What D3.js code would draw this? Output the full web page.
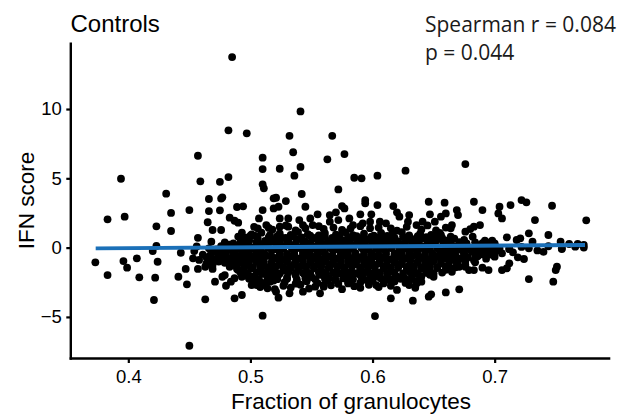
<!DOCTYPE html>
<html>
<head>
<meta charset="utf-8">
<script src="https://cdn.jsdelivr.net/npm/d3@7"></script>
<style>
  html, body { margin: 0; padding: 0; background: #fff; }
  svg { display: block; }
</style>
</head>
<body>
<svg id="chart" width="633" height="419"></svg>
<script>
// ---------------- DATA ----------------
const titleText = "Controls";
const statLines = ["Spearman r = 0.084", "p = 0.044"];
const xLabel = "Fraction of granulocytes";
const yLabel = "IFN score";
const xTicks = [0.4, 0.5, 0.6, 0.7];
const xTickLabels = ["0.4", "0.5", "0.6", "0.7"];
const yTicks = [-5, 0, 5, 10];
const yTickLabels = ["\u22125", "0", "5", "10"];

// Linear fit endpoints
const fitX = [0.3733, 0.774];
const fitY = [-0.05, 0.19];

// Sparse / clearly readable points (fraction, IFN score)
const upperPoints = [
  [.394,4.97],[.482,8.46],[.457,6.63],[.459,4.78],[.475,4.75],[.482,5.09],[.431,3.89],[.466,3.51],
  [.476,3.54],[.477,3.63],[.435,2.50],[.450,2.71],[.466,2.64],[.475,2.69],[.489,2.93],[.383,2.04],
  [.397,2.23],[.483,2.16],[.485,13.75],[.541,9.83],[.497,8.25],[.532,8.07],[.567,8.07],[.510,6.49],
  [.535,6.88],[.563,6.37],[.577,6.75],[.510,5.67],[.524,5.69],[.541,5.82],[.676,6.03],[.627,5.55],
  [.604,5.19],[.585,5.04],[.591,5.00],[.536,5.19],
  [.494,2.98],[.465,1.83],[.487,1.94],[.490,1.80],[.423,1.54],[.435,1.20],[.469,1.27],[.476,1.27],
  [.457,0.71],[.468,0.43],[.493,1.08],[.500,0.86],[.423,0.12],[.420,-0.25],[.443,-0.37],[.454,-0.25],
  [.456,0.09],[.471,-0.25],[.478,-0.25],[.484,0.09],[.490,0.09],[.498,-0.17]
];
const midPoints = [
  [.510,4.57],[.511,4.28],[.542,3.87],[.572,4.20],[.519,3.56],[.521,3.60],[.529,3.36],[.594,3.43],
  [.594,3.20],[.646,3.31],[.510,2.71],[.519,2.83],[.523,2.95],[.545,2.95],[.575,3.00],[.577,2.83],
  [.604,3.07],[.617,3.00],[.570,2.55],[.555,2.40],[.565,2.35],[.590,2.40],[.599,2.40],[.620,2.55],
  [.622,2.23],[.630,2.35],[.647,2.40],[.507,2.11],[.513,1.63],[.506,1.39],[.524,2.11],[.531,2.11],
  [.540,1.99],[.549,2.11],[.524,1.51],[.531,1.51],[.543,1.63],[.551,1.63],[.565,1.87],[.572,1.99],
  [.581,2.11],[.584,1.63],[.592,1.75],[.598,1.87],[.606,1.87],[.611,1.75],[.615,1.39],[.629,1.87],
  [.636,1.63],[.641,1.87],[.651,1.87],
  [.518,1.30],[.537,1.25],[.560,1.35],[.575,1.28],[.598,1.40],[.620,1.22],[.640,1.30],[.652,1.25],
  [.659,3.24],[.683,3.31],[.690,2.71],[.704,2.95],[.703,2.47],[.706,2.11],[.713,3.07],[.722,3.43],
  [.726,3.27],[.747,3.02],[.733,1.99],[.775,1.97],[.660,2.47],[.669,2.71],[.670,2.35],[.656,2.23],
  [.665,1.63],[.664,1.39],[.688,1.63],[.683,1.51],[.680,1.34],[.676,1.15],[.656,0.91],[.654,0.71],
  [.682,0.79],[.675,0.55],[.692,0.50],[.698,0.50],[.710,0.74],[.718,0.55],[.721,0.67],[.728,1.03],
  [.731,0.43],[.744,0.91],[.754,0.43],[.761,0.26],[.768,0.26],[.773,0.19],[.755,-0.05],
  [.712,-0.10],[.722,0.05],[.735,-0.20],[.744,0.10],[.700,0.30],[.715,-0.35],[.728,-0.05],[.740,-0.30]
];
const lowerPoints = [
  [.373,-1.06],[.383,-1.98],[.396,-0.97],[.399,-1.45],[.407,-0.77],[.409,-2.14],[.424,-1.02],[.422,-2.17],
  [.421,-3.78],[.447,-1.54],[.441,-2.10],[.448,-2.65],[.450,-7.08],[.453,-0.77],[.458,-0.89],[.457,-1.54],
  [.463,-1.38],[.464,-1.13],[.469,-1.26],[.469,-1.54],[.471,-2.46],[.463,-3.73],[.477,-2.10],[.480,-2.75],
  [.484,-2.46],[.487,-2.21],[.487,-3.66],[.493,-3.42],[.476,-0.53],[.487,-0.77],[.493,-0.53],[.484,-1.26],
  [.490,-1.62],[.495,-1.38],[.479,-1.98],[.493,-2.10],[.499,-2.21],[.501,-2.70],
  [.510,-4.91],[.602,-4.94],[.615,-3.66],[.633,-3.83],[.646,-3.54],[.648,-3.37],[.523,-3.61],[.521,-3.18],
  [.532,-3.30],[.543,-3.18],[.557,-3.30],[.505,-2.70],[.514,-2.94],[.516,-2.46],[.538,-2.46],[.546,-2.34],
  [.553,-2.82],[.560,-2.70],[.570,-2.34],[.580,-2.58],[.581,-2.21],[.590,-1.98],[.595,-2.34],[.603,-2.70],
  [.611,-2.34],[.620,-2.10],[.628,-2.46],[.636,-2.58],[.640,-2.46],[.650,-2.10],[.644,-1.62],[.502,-2.10],
  [.508,-1.26],[.516,-1.49],
  [.660,-3.23],[.671,-3.01],[.728,-2.27],[.748,-2.46],[.750,-1.62],[.751,-1.38],[.706,-1.62],[.710,-1.49],
  [.712,-1.13],[.719,-0.70],[.724,-0.82],[.700,-0.65],[.686,-0.58],[.689,-0.48],[.679,-1.62],[.683,-1.62],
  [.690,-1.45],[.695,-1.62],[.664,-1.49],[.665,-1.74],[.671,-1.38],[.672,-0.77],[.664,-0.77],[.657,-0.77],
  [.658,-0.29],[.667,-0.29],[.673,-0.17],[.712,-0.10],[.755,-0.10],[.766,0.07],[.773,0.00]
];
// Dense core (estimated where dots overlap)
const corePoints = [
  [.501,.95],[.509,1.08],[.516,.90],[.524,1.02],[.533,.92],[.539,1.12],[.547,.97],[.556,.88],[.561,1.05],
  [.570,.93],[.578,1.10],[.584,.90],[.593,1.00],[.601,.86],[.607,1.07],[.616,.95],[.624,1.12],[.630,.89],
  [.639,1.00],[.648,.92],[.655,1.06],
  [.493,.60],[.499,.50],[.506,.66],[.512,.48],[.519,.60],[.526,.70],[.531,.50],[.538,.58],[.545,.45],
  [.551,.66],[.557,.54],[.564,.47],[.570,.63],[.576,.52],[.583,.69],[.589,.48],[.596,.60],[.602,.50],
  [.609,.67],[.615,.55],[.621,.45],[.628,.62],[.634,.52],[.641,.68],[.647,.47],[.653,.58],[.660,.50],[.667,.64],
  [.476,.10],[.483,.22],[.489,.05],[.495,.18],[.502,.02],[.508,.20],[.514,.10],[.521,.26],[.527,.05],
  [.533,.16],[.540,.00],[.546,.22],[.552,.10],[.559,.25],[.565,.03],[.571,.15],[.578,.27],[.584,.06],
  [.590,.19],[.597,.00],[.603,.13],[.610,.24],[.616,.05],[.622,.17],[.629,.02],[.635,.20],[.642,.09],
  [.648,.25],[.654,.04],[.661,.16],[.667,.07],[.674,.22],[.680,.00],[.687,.14],[.694,.05],[.700,.20],
  [.469,-.30],[.475,-.42],[.481,-.20],[.487,-.35],[.493,-.18],[.499,-.44],[.505,-.27],[.511,-.38],[.518,-.16],
  [.524,-.33],[.530,-.45],[.536,-.22],[.543,-.37],[.549,-.15],[.555,-.29],[.561,-.43],[.568,-.20],[.574,-.34],
  [.580,-.17],[.586,-.40],[.593,-.26],[.599,-.44],[.605,-.19],[.611,-.32],[.618,-.42],[.624,-.21],[.630,-.36],
  [.637,-.15],[.643,-.30],[.649,-.43],[.655,-.22],[.662,-.35],[.668,-.18],[.675,-.40],[.681,-.27],[.688,-.20],
  [.694,-.38],[.701,-.25],[.706,-.41],
  [.464,-.70],[.471,-.82],[.477,-.62],[.483,-.78],[.489,-.60],[.496,-.87],[.502,-.68],[.508,-.80],[.514,-.60],
  [.521,-.75],[.527,-.88],[.533,-.65],[.539,-.80],[.546,-.59],[.552,-.72],[.558,-.86],[.564,-.63],[.571,-.77],
  [.577,-.60],[.583,-.84],[.590,-.69],[.596,-.88],[.602,-.62],[.608,-.75],[.615,-.85],[.621,-.64],[.627,-.79],
  [.633,-.59],[.640,-.73],[.646,-.86],[.652,-.66],[.659,-.78],[.665,-.60],[.671,-.83],[.678,-.70],[.686,-.62],[.693,-.80],
  [.479,-1.10],[.486,-1.25],[.492,-1.05],[.498,-1.20],[.505,-1.02],[.511,-1.30],[.517,-1.12],[.524,-1.24],
  [.530,-1.03],[.536,-1.18],[.542,-1.30],[.549,-1.08],[.555,-1.22],[.561,-1.01],[.567,-1.15],[.574,-1.28],
  [.580,-1.06],[.586,-1.20],[.593,-1.04],[.599,-1.27],[.605,-1.12],[.611,-1.30],[.618,-1.05],[.624,-1.18],
  [.630,-1.28],[.637,-1.07],[.643,-1.22],[.649,-1.02],[.656,-1.16],[.662,-1.29],[.669,-1.10],[.676,-1.23],[.684,-1.05],
  [.489,-1.55],[.495,-1.70],[.501,-1.48],[.508,-1.62],[.514,-1.75],[.520,-1.52],[.527,-1.66],[.533,-1.46],
  [.539,-1.60],[.546,-1.74],[.552,-1.50],[.558,-1.64],[.564,-1.45],[.571,-1.70],[.577,-1.56],[.583,-1.75],
  [.590,-1.48],[.596,-1.62],[.602,-1.72],[.609,-1.50],[.615,-1.66],[.621,-1.46],[.628,-1.60],[.634,-1.74],
  [.640,-1.53],[.647,-1.67],[.653,-1.47],[.660,-1.60],
  [.496,-2.00],[.503,-2.15],[.510,-1.90],[.517,-2.08],[.523,-1.95],[.530,-2.17],[.537,-2.00],[.544,-1.90],
  [.550,-2.12],[.557,-1.97],[.564,-2.18],[.570,-1.92],[.577,-2.05],[.584,-1.88],[.591,-2.14],[.598,-1.98],
  [.605,-2.10],[.612,-1.90],[.619,-2.06],[.626,-2.16],[.633,-1.94],[.640,-2.08],[.647,-1.96],
  [.502,-2.40],[.510,-2.55],[.519,-2.38],[.528,-2.50],[.537,-2.60],[.546,-2.42],[.555,-2.56],[.563,-2.40],
  [.572,-2.62],[.580,-2.45],[.590,-2.52],[.600,-2.40],[.609,-2.58],[.618,-2.44],[.627,-2.55],[.636,-2.40],
  [.508,-2.85],[.520,-3.00],[.533,-2.88],[.548,-2.95],[.560,-2.82],[.575,-3.00],[.590,-2.90],[.605,-2.85],
  [.620,-3.05],[.635,-2.90]
];
// Second, interleaved layer of the dense core (estimated)
const coreFill = [
  [.503,1.50],[.515,1.42],[.529,1.60],[.545,1.40],[.556,1.55],[.568,1.45],[.582,1.38],[.590,1.55],
  [.605,1.45],[.628,1.50],[.645,1.60],[.660,1.45],
  [.490,.80],[.497,.72],[.504,.85],[.515,.76],[.522,.82],[.529,.70],[.535,.80],[.542,.74],[.549,.86],
  [.554,.72],[.561,.79],[.567,.70],[.573,.84],[.580,.75],[.587,.82],[.592,.72],[.599,.80],[.605,.74],
  [.612,.84],[.618,.72],[.625,.80],[.631,.70],[.637,.83],[.644,.76],[.651,.82],[.657,.70],[.664,.80],
  [.479,.38],[.486,.30],[.492,.42],[.498,.32],[.505,.40],[.511,.30],[.517,.44],[.524,.34],[.530,.38],
  [.537,.30],[.543,.43],[.549,.33],[.556,.40],[.562,.28],[.568,.42],[.575,.35],[.581,.44],[.587,.30],
  [.594,.38],[.600,.30],[.607,.42],[.613,.33],[.619,.40],[.626,.30],[.632,.43],[.638,.35],[.645,.40],
  [.651,.30],[.658,.42],[.664,.33],[.671,.40],[.677,.30],[.684,.38],[.690,.32],[.697,.42],
  [.466,-.05],[.472,-.12],[.478,-.02],[.484,-.10],[.490,-.05],[.496,-.12],[.502,-.04],[.508,-.10],
  [.515,-.03],[.521,-.12],[.527,-.06],[.534,-.10],[.540,-.02],[.546,-.12],[.553,-.06],[.559,-.10],
  [.565,-.03],[.572,-.12],[.578,-.05],[.584,-.10],[.591,-.02],[.597,-.12],[.603,-.06],[.609,-.10],
  [.615,-.03],[.622,-.12],[.628,-.05],[.634,-.10],[.641,-.03],[.647,-.12],[.653,-.05],[.659,-.10],
  [.665,-.02],[.672,-.12],[.678,-.06],[.684,-.10],[.691,-.03],[.697,-.12],[.704,-.06],
  [.461,-.50],[.467,-.56],[.474,-.48],[.480,-.55],[.486,-.50],[.492,-.58],[.498,-.50],[.505,-.55],
  [.511,-.48],[.517,-.57],[.524,-.52],[.530,-.56],[.536,-.49],[.543,-.57],[.549,-.51],[.555,-.56],
  [.561,-.48],[.567,-.56],[.574,-.52],[.580,-.57],[.586,-.49],[.593,-.55],[.599,-.52],[.605,-.57],
  [.611,-.48],[.618,-.56],[.624,-.52],[.630,-.57],[.637,-.50],[.643,-.55],[.649,-.49],[.655,-.57],
  [.662,-.52],[.668,-.56],[.675,-.49],[.684,-.55],[.697,-.50],
  [.468,-.95],[.474,-1.00],[.480,-.92],[.486,-.98],[.493,-.93],[.499,-1.00],[.505,-.94],[.511,-.99],
  [.518,-.92],[.524,-.98],[.530,-.95],[.537,-1.00],[.543,-.93],[.549,-.98],[.555,-.92],[.562,-1.00],
  [.568,-.95],[.574,-.99],[.580,-.92],[.587,-.98],[.593,-.94],[.599,-1.00],[.606,-.93],[.612,-.98],
  [.618,-.92],[.624,-1.00],[.631,-.95],[.637,-.99],[.643,-.92],[.650,-.98],[.656,-.94],[.663,-1.00],
  [.669,-.93],[.676,-.98],[.683,-.92],
  [.483,-1.38],[.489,-1.42],[.495,-1.35],[.502,-1.40],[.508,-1.36],[.514,-1.42],[.521,-1.35],[.527,-1.40],
  [.533,-1.37],[.539,-1.42],[.546,-1.35],[.552,-1.40],[.558,-1.36],[.565,-1.42],[.571,-1.35],[.577,-1.40],
  [.583,-1.37],[.590,-1.42],[.596,-1.35],[.602,-1.40],[.609,-1.36],[.615,-1.42],[.621,-1.35],[.628,-1.40],
  [.634,-1.37],[.640,-1.42],[.647,-1.35],[.653,-1.40],[.660,-1.36],[.668,-1.42],[.676,-1.38],
  [.492,-1.82],[.498,-1.86],[.505,-1.80],[.511,-1.85],[.518,-1.80],[.524,-1.86],[.531,-1.80],[.537,-1.85],
  [.543,-1.82],[.549,-1.86],[.556,-1.80],[.562,-1.85],[.568,-1.81],[.574,-1.86],[.581,-1.80],[.587,-1.85],
  [.593,-1.82],[.600,-1.86],[.606,-1.80],[.612,-1.85],[.618,-1.81],[.625,-1.86],[.631,-1.80],[.637,-1.85],
  [.644,-1.82],[.650,-1.86],[.657,-1.80],
  [.499,-2.25],[.507,-2.30],[.514,-2.22],[.522,-2.28],[.530,-2.24],[.538,-2.30],[.545,-2.22],[.553,-2.28],
  [.561,-2.25],[.569,-2.30],[.576,-2.22],[.584,-2.28],[.592,-2.24],[.600,-2.30],[.607,-2.22],[.615,-2.28],
  [.623,-2.25],[.631,-2.30],[.639,-2.22],
  [.512,-2.70],[.527,-2.75],[.541,-2.68],[.566,-2.72],[.585,-2.78],[.597,-2.68],[.615,-2.75],[.630,-2.70]
];

// ---------------- CHART ----------------
const W = 633, H = 419;
const margin = { left: 70.8, right: 22.7, top: 42.5, bottom: 60.5 };
const svg = d3.select("#chart");

const x = d3.scaleLinear().domain([0.3529, 0.7947]).range([margin.left, W - margin.right]);
const y = d3.scaleLinear().domain([-8.0, 14.8]).range([H - margin.bottom, margin.top]);

const allPoints = upperPoints.concat(midPoints, lowerPoints, corePoints, coreFill);

svg.append("g")
  .selectAll("circle")
  .data(allPoints)
  .join("circle")
  .attr("cx", d => x(d[0]))
  .attr("cy", d => y(d[1]))
  .attr("r", 3.9)
  .attr("fill", "#000");

// fit line
const line = d3.line().x(d => x(d[0])).y(d => y(d[1]));
svg.append("path")
  .datum(fitX.map((v, i) => [v, fitY[i]]))
  .attr("d", line)
  .attr("fill", "none")
  .attr("stroke", "#1b70b8")
  .attr("stroke-width", 3.8);

// axes
const axisFont = "'Liberation Sans', Arial, Helvetica, sans-serif";
const gx = svg.append("g")
  .attr("transform", `translate(0,${H - margin.bottom})`)
  .call(d3.axisBottom(x).tickValues(xTicks).tickFormat((d, i) => xTickLabels[i])
    .tickSize(4.5).tickPadding(6.5).tickSizeOuter(0));
const gy = svg.append("g")
  .attr("transform", `translate(${margin.left},0)`)
  .call(d3.axisLeft(y).tickValues(yTicks).tickFormat((d, i) => yTickLabels[i])
    .tickSize(4.5).tickPadding(4.5).tickSizeOuter(0));

[gx, gy].forEach(g => {
  g.select(".domain").attr("stroke", "#000").attr("stroke-width", 2.4);
  g.selectAll(".tick line").attr("stroke", "#000").attr("stroke-width", 2.2);
  g.selectAll(".tick text")
    .attr("fill", "#000")
    .style("font-family", axisFont)
    .style("font-size", "18.5px");
});
gx.select(".domain").attr("d", `M${margin.left - 1.2},0H${W - margin.right}`);
gy.select(".domain").attr("d", `M0,${margin.top}V${H - margin.bottom + 1.2}`);

// axis titles
svg.append("text")
  .attr("x", 351)
  .attr("y", 409)
  .attr("text-anchor", "middle")
  .style("font-family", axisFont)
  .style("font-size", "22.5px")
  .attr("fill", "#000")
  .text(xLabel);

svg.append("text")
  .attr("transform", `translate(34,${(margin.top + H - margin.bottom) / 2}) rotate(-90)`)
  .attr("text-anchor", "middle")
  .style("font-family", axisFont)
  .style("font-size", "22.5px")
  .attr("fill", "#000")
  .text(yLabel);

// title
svg.append("text")
  .attr("x", 70.5)
  .attr("y", 31.7)
  .style("font-family", axisFont)
  .style("font-size", "24px")
  .attr("fill", "#000")
  .text(titleText);

// stat annotation
svg.append("g")
  .selectAll("text")
  .data(statLines)
  .join("text")
  .attr("x", 425)
  .attr("y", (d, i) => 31.7 + i * 28.3)
  .style("font-family", "'Open Sans', 'Noto Sans', sans-serif")
  .style("font-size", "21px")
  .attr("fill", "#1a1a1a")
  .text(d => d);
</script>
</body>
</html>
